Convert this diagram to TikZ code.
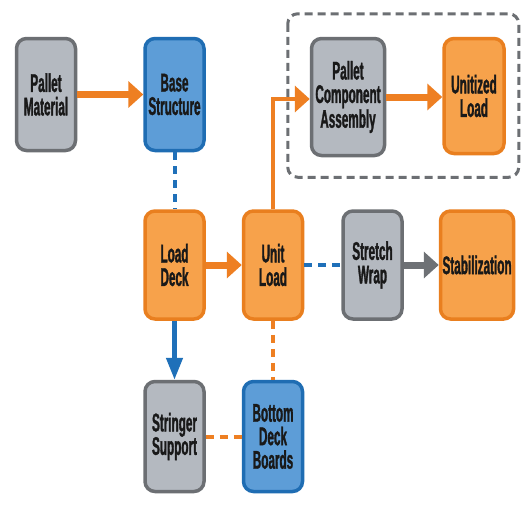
\documentclass[tikz,border=0pt]{standalone}
\usepackage{fontspec}
\setmainfont{Liberation Sans}[FakeStretch=0.46, BoldFeatures={FakeBold=1.2}]
\usepackage{tikz}
\usetikzlibrary{positioning, calc, arrows.meta}

\definecolor{boxgray}{HTML}{B4B9C0}
\definecolor{edgegray}{HTML}{6C6F73}
\definecolor{boxblue}{HTML}{5D9DD7}
\definecolor{edgeblue}{HTML}{1F6DB3}
\definecolor{boxorange}{HTML}{F7A24B}
\definecolor{edgeorange}{HTML}{E97F1F}
\definecolor{linkorange}{HTML}{EE7F22}
\definecolor{linkblue}{HTML}{1F70B9}
\definecolor{linkgray}{HTML}{6E7175}

\begin{document}
\begin{tikzpicture}[x=1pt, y=1pt, node distance=36pt]
        % Define block styles
        \tikzstyle{block} = [rectangle, draw, line width=3.5pt, rounded corners=10pt, align=center, minimum width=59pt, minimum height=112pt, inner sep=2pt, font=\fontsize{25.5}{23.5}\selectfont\bfseries, text=black!90]
        \tikzstyle{grayblock} = [block, fill=boxgray, draw=edgegray]
        \tikzstyle{blueblock} = [block, fill=boxblue, draw=edgeblue]
        \tikzstyle{orangeblock} = [block, fill=boxorange, draw=edgeorange]
        \tikzstyle{orangearrow} = [draw=linkorange, line width=7pt, -{Triangle[length=15pt, width=26pt]}]
        \tikzstyle{grayarrow} = [draw=linkgray, line width=7pt, -{Triangle[length=15pt, width=26pt]}]
        \tikzstyle{bluearrow} = [draw=linkblue, line width=4.5pt, -{Triangle[length=22pt, width=16pt]}]
        \tikzstyle{bluedash} = [draw=linkblue, line width=4pt, dash pattern=on 8pt off 6pt]
        \tikzstyle{orangedash} = [draw=linkorange, line width=4pt, dash pattern=on 8pt off 6pt]

        \fill[white] (0,0) rectangle (528,-528);
        \useasboundingbox (0,0) rectangle (528,-528);

        % Place nodes
        \node [grayblock] (pm) at (46,-94.5) {Pallet\\Material};
        \node [blueblock, right=66pt of pm] (bs) {Base\\Structure};
        \node [grayblock, minimum width=73pt, minimum height=117pt, right=104pt of bs.north east, anchor=north west] (pca) {Pallet\\Component\\Assembly};
        \node [orangeblock, minimum width=60pt, minimum height=115pt, right=56pt of pca.north east, anchor=north west] (unitized) {Unitized\\Load};
        \node [orangeblock, minimum height=108pt, below=57pt of bs] (ld) {Load\\Deck};
        \node [orangeblock, minimum height=108pt, right=of ld] (ul) {Unit\\Load};
        \node [grayblock, minimum height=108pt, right=37pt of ul] (sw) {Stretch\\Wrap};
        \node [orangeblock, minimum width=73pt, minimum height=108pt, right=35pt of sw] (stab) {Stabilization};
        \node [grayblock, minimum height=110pt, below=59pt of ld] (ss) {Stringer\\Support};
        \node [blueblock, minimum height=110pt, right=of ss] (bdb) {Bottom\\Deck\\Boards};

        % Dashed group round the assembly
        \draw [edgegray, line width=3pt, dash pattern=on 8pt off 5pt, rounded corners=10pt]
            ($(pca.north west)+(-22,23)$) rectangle ($(unitized.east |- pca.south)+(13,-20)$);

        % Draw connections as arrows
        \draw [orangearrow] (pm) -- (bs);
        \draw [orangearrow, line width=4.5pt] (ul.north) |- ($(pca.west)+(0,-2)$);
        \draw [orangearrow] (pca.east) -- (pca.east -| unitized.west);
        \draw [orangearrow] (ld) -- (ul);
        \draw [grayarrow] (sw) -- (stab);
        \draw [bluearrow] (ld) -- (ss);
        \draw [bluedash] (bs) -- (ld);
        \draw [bluedash] (ul) -- (sw);
        \draw [orangedash] (ul) -- (bdb);
        \draw [orangedash] (ss) -- (bdb);

    \end{tikzpicture}
\end{document}
